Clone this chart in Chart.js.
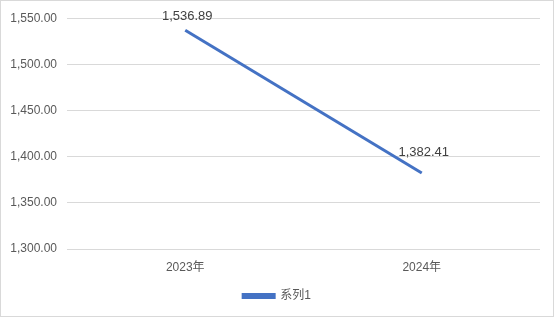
<!DOCTYPE html>
<html>
<head>
<meta charset="utf-8">
<script src="https://cdn.jsdelivr.net/npm/chart.js@4/dist/chart.umd.min.js"></script>
<style>
html,body{margin:0;padding:0;background:#fff;}
#wrap{position:relative;width:554px;height:317px;box-sizing:border-box;border:1px solid #d9d9d9;}
canvas{display:block;}
</style>
</head>
<body>
<div id="wrap"><canvas id="c" width="552" height="315"></canvas></div>
<script>
const categories = ["2023年", "2024年"];
const seriesName = "系列1";
const values = [1536.89, 1382.41];
const yTicks = [1300, 1350, 1400, 1450, 1500, 1550];

const FONT = "'Liberation Sans','Noto Sans CJK SC',sans-serif";
const fmt = v => v.toLocaleString('en-US', {minimumFractionDigits: 2, maximumFractionDigits: 2});

const labelPlugin = {
  id: 'dataLabels',
  afterDatasetsDraw(chart) {
    const ctx = chart.ctx;
    const meta = chart.getDatasetMeta(0);
    ctx.save();
    ctx.font = "13px " + FONT;
    ctx.fillStyle = "#404040";
    ctx.textAlign = "center";
    ctx.textBaseline = "middle";
    meta.data.forEach((pt, i) => {
      let y = Math.max(pt.y - 20, chart.chartArea.top - 2);
      ctx.fillText(fmt(chart.data.datasets[0].data[i]), pt.x + 2, y);
    });
    ctx.restore();
  }
};

const centerLegend = {
  id: 'centerLegend',
  afterLayout(chart) {
    if (chart.legend) {
      chart.legend.left = 0;
      chart.legend.right = chart.width;
    }
  }
};

new Chart(document.getElementById('c'), {
  type: 'line',
  data: {
    labels: categories,
    datasets: [{
      label: seriesName,
      data: values,
      borderColor: '#4472C4',
      backgroundColor: '#4472C4',
      borderWidth: 3,
      pointRadius: 0,
      pointHoverRadius: 0,
      tension: 0
    }]
  },
  options: {
    responsive: false,
    animation: false,
    devicePixelRatio: 1,
    layout: { padding: { left: 0, right: 13, top: 12, bottom: 4 } },
    plugins: {
      tooltip: { enabled: false },
      legend: {
        position: 'bottom',
        labels: {
          boxWidth: 31,
          boxHeight: 3,
          padding: 6,
          color: '#595959',
          font: { size: 12, family: FONT }
        }
      }
    },
    scales: {
      x: {
        offset: true,
        grid: { display: false, drawTicks: false },
        border: { display: false },
        ticks: { color: '#595959', font: { size: 12, family: FONT }, padding: 11 },
        afterFit(s) { s.height = 35; }
      },
      y: {
        min: 1300,
        max: 1550,
        afterBuildTicks(s) { s.ticks = yTicks.map(v => ({ value: v })); },
        grid: { color: '#d9d9d9', lineWidth: 1, drawTicks: false },
        border: { display: false },
        ticks: {
          color: '#595959',
          font: { size: 12, family: FONT },
          padding: 10,
          callback: v => fmt(v)
        },
        afterFit(s) { s.width = 66; }
      }
    }
  },
  plugins: [labelPlugin, centerLegend]
});
</script>
</body>
</html>
